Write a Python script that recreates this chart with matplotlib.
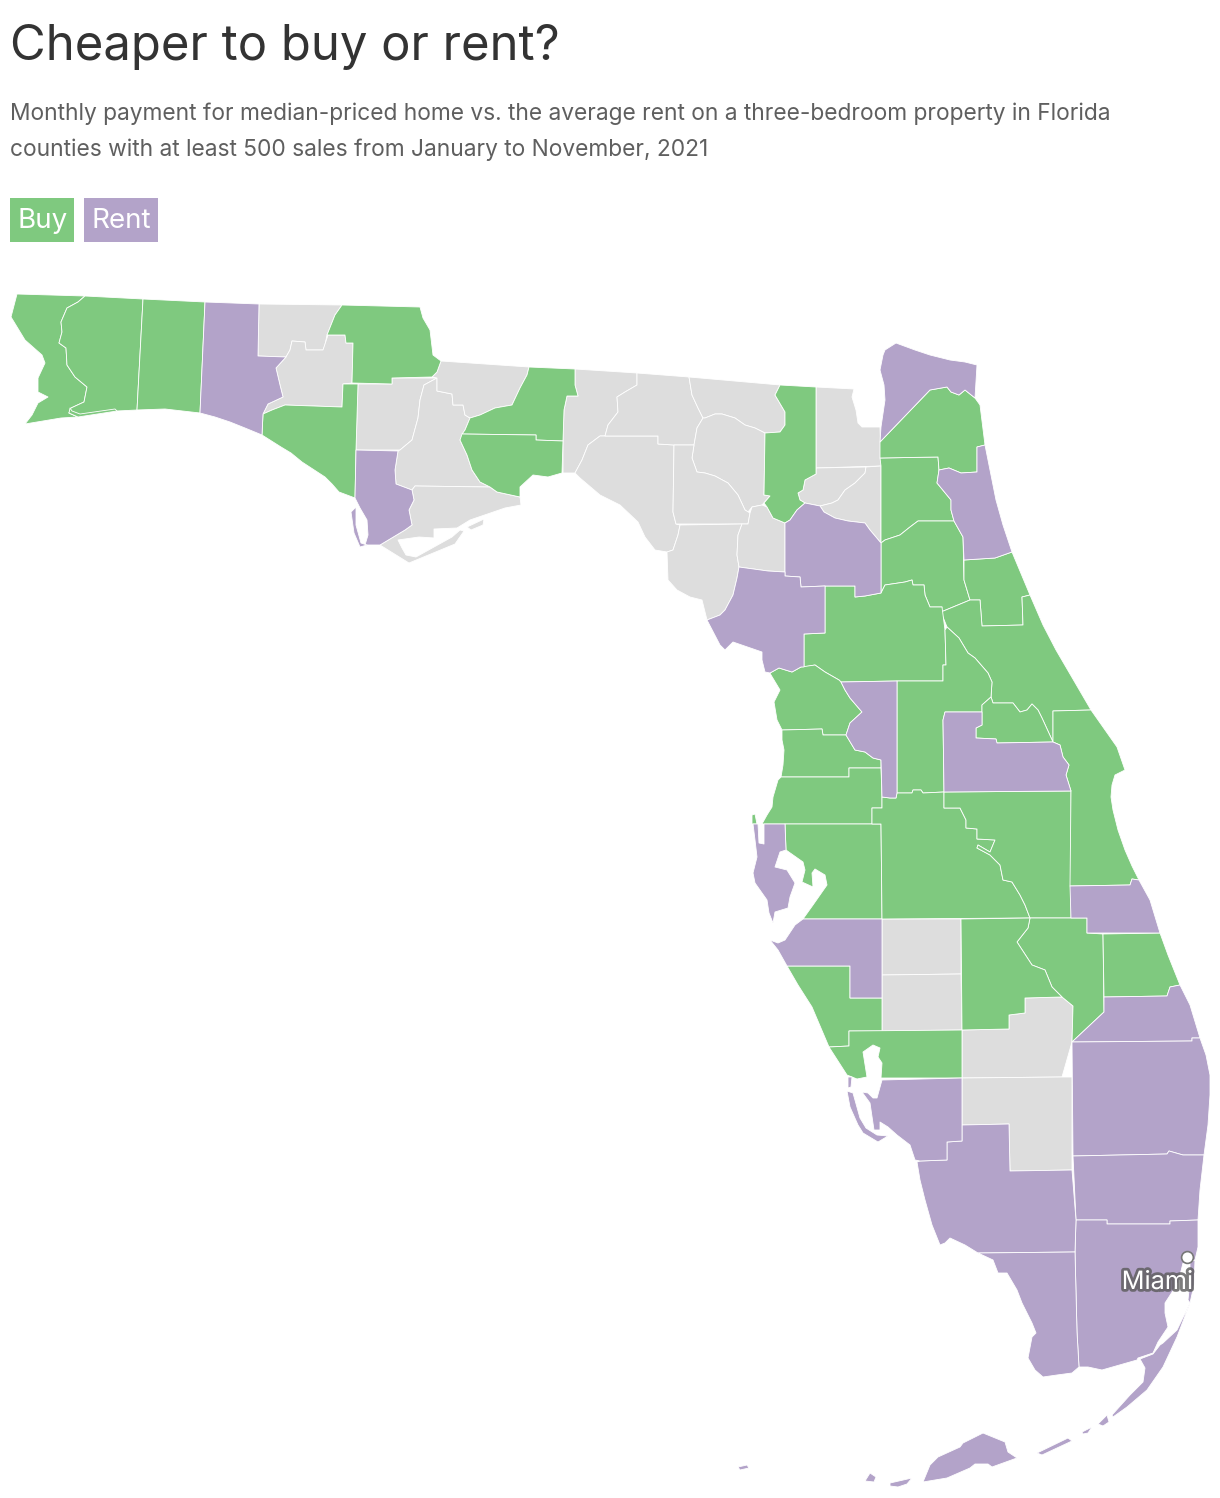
import matplotlib
matplotlib.use('Agg')
import matplotlib.pyplot as plt
import matplotlib.patheffects as pe
from matplotlib.patches import Polygon, Rectangle

GREEN = '#7fc97f'
PURPLE = '#b3a3c9'
GRAY = '#dddddd'

title = 'Cheaper to buy or rent?'
subtitle_1 = 'Monthly payment for median-priced home vs. the average rent on a three-bedroom property in Florida'
subtitle_2 = 'counties with at least 500 sales from January to November, 2021'
legend_labels = ['Buy', 'Rent']

# county outlines in pixels (x, y)
escambia = [(17,294),(85,296),(78,302),(67,308),(61,322),(62,332),(59,343),(66,348),(67,365),(75,377),(87,387),(84,402),(71,408),(69,413),(78,417),(61,418),(25,424),(32,415),(38,403),(48,397),(38,392),(38,378),(45,363),(42,355),(25,340),(11,317)]
santa_rosa = [(85,296),(143,299),(137,410),(117,411),(78,417),(69,413),(71,408),(84,402),(87,387),(75,377),(67,365),(66,348),(59,343),(62,332),(61,322),(67,308),(78,302)]
santa_rosa_isle = [(70,408),(69,413),(78,417),(117,411),(115,409),(80,414),(72,411)]
okaloosa = [(143,299),(205,302),(200,413),(165,409),(137,410)]
walton = [(205,302),(259,304),(258,356),(286,357),(276,368),(280,385),(283,397),(268,404),(263,414),(262,435),(245,428),(230,422),(215,417),(200,413)]
holmes = [(259,304),(342,305),(335,315),(327,335),(325,345),(323,350),(306,350),(305,342),(292,341),(290,350),(286,357),(258,356)]
washington = [(292,341),(305,342),(306,350),(323,350),(328,335),(345,335),(346,343),(353,343),(352,383),(343,384),(342,407),(285,405),(272,410),(263,414),(268,404),(283,397),(280,385),(276,368),(286,357),(290,350)]
bay = [(263,414),(272,410),(285,405),(342,407),(343,384),(358,384),(356,450),(355,498),(347,495),(339,492),(332,484),(325,477),(302,462),(291,453),(281,447),(262,435)]
jackson = [(327,335),(335,315),(342,305),(420,307),(423,318),(430,330),(433,355),(441,361),(437,372),(432,377),(392,378),(392,384),(352,383),(353,343),(346,343),(345,335)]
calhoun = [(358,384),(392,384),(392,378),(437,378),(424,385),(420,400),(418,418),(412,440),(400,450),(356,450)]
gulf = [(356,450),(398,451),(395,470),(396,484),(412,490),(414,500),(409,510),(412,525),(405,530),(380,545),(365,545),(368,535),(367,520),(360,508),(355,498)]
gulf_spit = [(351,512),(356,507),(356,525),(361,543),(367,545),(360,547),(354,533)]
liberty = [(437,378),(437,391),(452,394),(453,405),(463,405),(465,415),(470,418),(465,430),(460,440),(467,455),(472,470),(480,482),(490,487),(415,486),(412,490),(396,484),(395,470),(398,451),(400,450),(412,440),(418,418),(420,400),(424,385)]
franklin = [(415,486),(490,487),(497,492),(520,497),(521,505),(505,508),(470,520),(457,528),(434,529),(434,538),(419,537),(398,540),(402,548),(406,555),(416,557),(452,537),(460,530),(464,531),(455,544),(409,563),(380,545),(405,530),(412,525),(409,510),(414,500),(412,490)]
franklin_isle = [(467,527),(484,519),(483,525),(471,530)]
gadsden = [(441,361),(529,367),(527,375),(520,388),(512,405),(495,408),(480,415),(470,418),(465,415),(463,405),(453,405),(452,394),(437,391),(437,378),(432,377),(437,372)]
leon = [(529,367),(575,369),(575,385),(578,396),(567,396),(564,410),(563,441),(536,440),(536,435),(462,434),(465,430),(470,418),(480,415),(495,408),(512,405),(520,388),(527,375)]
wakulla = [(462,434),(536,435),(536,440),(563,441),(562,473),(548,477),(533,475),(520,487),(520,497),(497,492),(490,487),(480,482),(472,470),(467,455),(460,440)]
jefferson = [(575,369),(637,373),(637,385),(625,392),(617,397),(618,412),(608,425),(605,436),(600,436),(588,445),(582,460),(575,473),(563,473),(563,441),(564,410),(567,396),(578,396),(575,385)]
taylor = [(605,436),(658,436),(658,444),(674,445),(673,512),(676,524),(680,525),(678,535),(673,550),(667,552),(655,550),(645,537),(638,522),(620,505),(600,495),(580,478),(575,473),(582,460),(588,445),(600,436)]
madison = [(637,373),(689,377),(692,395),(698,408),(703,418),(697,428),(694,445),(674,445),(658,444),(658,436),(605,436),(608,425),(618,412),(617,397),(625,392),(637,385)]
hamilton = [(689,377),(780,385),(775,395),(785,412),(785,425),(780,432),(765,433),(755,428),(745,425),(735,418),(722,414),(715,414),(705,418),(703,418),(698,408),(692,395)]
suwannee = [(705,418),(715,414),(722,414),(735,418),(745,425),(755,428),(765,433),(764,495),(770,496),(762,505),(752,507),(748,512),(745,510),(738,495),(728,483),(715,476),(705,473),(697,472),(692,458),(694,445),(697,428),(703,418)]
lafayette = [(674,445),(694,445),(692,458),(697,472),(705,473),(715,476),(728,483),(738,495),(745,510),(750,513),(748,524),(676,524),(673,512)]
dixie = [(680,525),(742,524),(738,535),(737,555),(739,567),(737,578),(733,595),(725,610),(720,615),(707,620),(702,600),(690,597),(677,590),(668,580),(667,552),(673,550),(678,535)]
gilchrist = [(752,507),(762,505),(767,507),(773,518),(785,523),(785,572),(768,571),(739,567),(737,555),(738,535),(742,524),(748,524),(750,513)]
columbia = [(780,385),(816,387),(816,474),(805,480),(803,490),(798,493),(800,500),(805,503),(797,510),(790,520),(785,523),(773,518),(767,507),(764,503),(770,496),(764,495),(765,433),(780,432),(785,425),(785,412),(775,395)]
baker = [(816,387),(854,389),(852,397),(856,410),(858,423),(862,427),(880,427),(881,466),(816,468)]
union = [(816,468),(866,467),(865,473),(855,483),(845,490),(838,500),(832,503),(820,506),(805,503),(800,500),(798,493),(803,490),(805,480),(816,474)]
bradford = [(866,467),(881,466),(881,543),(870,530),(865,523),(848,521),(835,518),(824,512),(820,506),(832,503),(838,500),(845,490),(855,483),(865,473)]
alachua = [(785,523),(790,520),(797,510),(805,503),(820,506),(824,512),(835,518),(848,521),(865,523),(870,530),(881,543),(881,593),(865,596),(855,597),(855,586),(825,586),(801,587),(800,577),(785,576)]
levy = [(707,620),(720,615),(725,610),(733,595),(737,578),(739,567),(768,571),(785,572),(785,576),(800,577),(801,587),(825,586),(825,633),(804,634),(804,667),(801,667),(792,672),(779,668),(770,673),(765,672),(762,660),(762,652),(733,642),(725,650),(720,645)]
marion = [(825,586),(855,586),(855,597),(865,596),(881,593),(885,585),(905,582),(912,580),(913,585),(924,585),(925,595),(930,607),(942,607),(945,630),(946,665),(943,665),(943,681),(897,681),(841,682),(839,680),(825,672),(815,665),(804,667),(804,634),(825,633)]
putnam = [(881,543),(885,540),(900,535),(910,527),(918,521),(954,521),(963,537),(964,580),(970,600),(941,612),(942,607),(930,607),(925,595),(924,585),(913,585),(912,580),(905,582),(885,585),(881,593)]
clay = [(880,458),(938,457),(939,470),(937,483),(951,500),(951,510),(954,521),(918,521),(910,527),(900,535),(885,540),(881,543),(881,466)]
duval = [(880,442),(930,390),(947,387),(951,392),(959,395),(965,390),(975,398),(980,405),(985,445),(977,447),(977,472),(961,473),(949,468),(939,470),(938,457),(880,458)]
nassau = [(880,442),(881,427),(885,400),(884,385),(880,370),(883,355),(885,350),(896,343),(915,350),(930,355),(950,360),(965,362),(977,365),(975,398),(965,390),(959,395),(951,392),(947,387),(930,390)]
st_johns = [(977,447),(985,445),(990,470),(996,500),(1003,525),(1012,552),(995,558),(964,560),(963,537),(954,521),(951,510),(951,500),(937,483),(939,470),(949,468),(961,473),(977,472)]
flagler = [(964,560),(995,558),(1012,552),(1030,595),(1022,597),(1023,625),(982,626),(980,600),(970,600),(964,580)]
volusia = [(941,612),(970,600),(980,600),(982,626),(1023,625),(1022,597),(1030,595),(1043,625),(1056,650),(1091,710),(1053,711),(1053,742),(1042,718),(1038,710),(1032,704),(1027,710),(1020,712),(1013,703),(993,703),(991,697),(992,682),(988,673),(975,658),(968,653),(959,638),(947,627)]
lake = [(897,681),(943,681),(943,665),(946,665),(945,630),(947,627),(959,638),(968,653),(975,658),(988,673),(992,682),(991,697),(982,705),(982,712),(945,712),(943,720),(944,792),(923,793),(921,790),(913,790),(912,793),(897,793)]
sumter = [(841,682),(897,681),(897,793),(896,798),(890,798),(882,797),(881,760),(873,758),(865,752),(855,750),(846,735),(850,723),(862,712),(850,698),(845,690)]
citrus = [(770,673),(779,668),(792,672),(801,667),(815,665),(825,672),(839,680),(841,682),(845,690),(850,698),(862,712),(850,723),(846,735),(823,735),(822,729),(782,730),(777,720),(774,702),(780,690),(771,675)]
hernando = [(782,730),(822,729),(823,735),(846,735),(855,750),(865,752),(873,758),(881,760),(881,768),(849,768),(849,777),(781,777),(783,765),(784,750),(782,740)]
pasco = [(781,777),(849,777),(849,768),(881,768),(882,797),(882,808),(872,808),(872,824),(762,824),(767,815),(772,807),(773,797),(778,780)]
pinellas = [(753,824),(758,824),(759,843),(764,844),(764,824),(785,824),(786,850),(780,852),(775,867),(787,870),(795,883),(790,897),(788,908),(775,912),(773,923),(769,913),(767,900),(755,883),(753,873),(757,857),(755,840)]
anclote = [(752,815),(755,814),(757,824),(752,824)]
hillsborough = [(785,824),(881,824),(882,919),(803,919),(813,905),(827,885),(825,875),(815,869),(812,873),(813,887),(802,882),(805,870),(803,862),(786,850)]
polk = [(872,808),(882,808),(882,797),(890,798),(896,798),(897,793),(912,793),(913,790),(921,790),(923,793),(944,792),(944,808),(960,808),(966,820),(966,828),(977,829),(977,839),(995,840),(990,852),(978,845),(977,848),(990,855),(1000,865),(1003,880),(1012,882),(1020,895),(1025,905),(1030,918),(882,919),(881,824),(872,824)]
osceola = [(944,792),(1071,791),(1071,918),(1030,918),(1025,905),(1020,895),(1012,882),(1003,880),(1000,865),(990,855),(977,848),(978,845),(990,852),(995,840),(977,839),(977,829),(966,828),(966,820),(960,808),(944,808)]
orange = [(945,712),(982,712),(982,725),(976,728),(976,738),(996,739),(997,743),(1053,742),(1060,745),(1063,757),(1069,765),(1066,775),(1071,791),(944,792),(943,720)]
seminole = [(982,712),(982,705),(991,697),(993,703),(1013,703),(1020,712),(1027,710),(1032,704),(1038,710),(1042,718),(1053,742),(997,743),(996,739),(976,738),(976,728),(982,725)]
brevard = [(1053,711),(1091,710),(1117,747),(1125,770),(1115,775),(1112,785),(1111,797),(1113,810),(1118,830),(1125,850),(1132,866),(1139,880),(1132,879),(1130,885),(1070,886),(1071,791),(1066,775),(1069,765),(1063,757),(1060,745),(1053,742)]
indian_river = [(1070,886),(1130,885),(1132,879),(1139,880),(1150,900),(1160,933),(1087,933),(1087,918),(1071,918)]
okeechobee = [(1030,918),(1087,918),(1087,933),(1103,934),(1104,1012),(1072,1042),(1073,1006),(1062,997),(1052,987),(1045,970),(1032,965),(1017,942),(1028,928)]
highlands = [(961,919),(1030,918),(1028,928),(1017,942),(1032,965),(1045,970),(1052,987),(1062,997),(1025,998),(1025,1013),(1009,1015),(1009,1029),(962,1030)]
glades = [(962,1030),(1009,1029),(1009,1015),(1025,1013),(1025,998),(1062,997),(1073,1006),(1072,1042),(1062,1077),(962,1078)]
hardee = [(882,919),(961,919),(961,974),(882,975)]
desoto = [(882,975),(961,974),(962,1030),(882,1031)]
manatee = [(803,919),(882,919),(882,998),(850,998),(850,966),(787,966),(778,950),(770,940),(778,943),(785,940),(795,925)]
sarasota = [(787,966),(850,966),(850,998),(882,998),(882,1031),(849,1031),(849,1046),(829,1047),(812,1007),(798,985)]
charlotte = [(849,1031),(962,1030),(962,1078),(881,1078),(882,1063),(878,1057),(880,1048),(873,1045),(863,1052),(867,1077),(857,1079),(847,1075),(829,1047),(849,1046)]
lee = [(882,1080),(962,1078),(962,1141),(947,1142),(947,1160),(920,1161),(915,1160),(910,1145),(897,1135),(888,1127),(880,1122),(880,1130),(874,1130),(870,1103),(862,1092),(868,1093),(873,1098),(877,1098)]
lee_north = [(848,1077),(852,1077),(851,1087),(848,1088)]
sanibel = [(847,1091),(853,1093),(860,1118),(866,1128),(877,1135),(888,1136),(878,1142),(863,1133),(858,1125),(850,1107)]
hendry = [(962,1078),(1062,1077),(1072,1077),(1072,1170),(1010,1171),(1009,1124),(962,1125)]
st_lucie = [(1103,934),(1160,933),(1168,955),(1180,985),(1170,987),(1167,996),(1104,997)]
martin = [(1104,997),(1167,996),(1170,987),(1180,985),(1190,1005),(1200,1038),(1192,1038),(1192,1041),(1072,1042),(1104,1012)]
palm_beach = [(1072,1042),(1192,1041),(1192,1038),(1200,1038),(1206,1055),(1210,1075),(1210,1095),(1208,1125),(1204,1155),(1183,1155),(1169,1151),(1167,1154),(1073,1156)]
broward = [(1073,1156),(1167,1154),(1169,1151),(1183,1155),(1204,1155),(1200,1190),(1198,1220),(1170,1221),(1170,1224),(1107,1224),(1107,1220),(1076,1220)]
collier = [(920,1161),(947,1160),(947,1142),(962,1141),(962,1125),(1009,1124),(1010,1171),(1072,1170),(1076,1220),(1075,1252),(978,1253),(965,1245),(950,1238),(945,1243),(940,1245),(932,1225),(925,1200),(920,1180),(917,1162)]
monroe = [(978,1253),(1075,1252),(1077,1332),(1079,1367),(1072,1373),(1057,1375),(1043,1377),(1035,1370),(1028,1358),(1032,1337),(1036,1333),(1032,1323),(1022,1303),(1017,1290),(1007,1273),(998,1273),(993,1260)]
miami_dade = [(1076,1220),(1107,1220),(1107,1224),(1170,1224),(1170,1221),(1198,1220),(1198,1247),(1195,1260),(1190,1262),(1183,1263),(1178,1283),(1165,1303),(1165,1313),(1168,1327),(1158,1342),(1153,1353),(1138,1358),(1137,1360),(1102,1370),(1088,1367),(1079,1367),(1077,1332),(1075,1252)]
miami_beach = [(1190,1262),(1195,1260),(1194,1285),(1190,1303),(1188,1300),(1190,1280)]
key_largo = [(1190,1303),(1177,1337),(1163,1367),(1147,1390),(1127,1407),(1113,1417),(1112,1415),(1130,1395),(1143,1382),(1145,1368),(1140,1359),(1153,1354),(1160,1345),(1163,1343),(1177,1330)]
key_a = [(1098,1424),(1107,1415),(1109,1422),(1103,1426)]
key_b = [(1082,1432),(1092,1427),(1088,1433),(1083,1434)]
key_c = [(1037,1453),(1068,1438),(1072,1441),(1042,1455)]
key_d = [(923,1482),(930,1465),(938,1457),(960,1447),(963,1443),(983,1433),(1005,1442),(1008,1452),(1017,1458),(992,1467),(988,1464),(975,1464),(970,1468),(947,1478)]
key_e = [(890,1483),(912,1478),(907,1484),(898,1487),(890,1486)]
key_f = [(865,1481),(870,1473),(876,1477),(874,1482)]
key_g = [(738,1467),(747,1465),(749,1468),(740,1470)]

buy_counties = [escambia, santa_rosa, santa_rosa_isle, okaloosa, bay, jackson, leon, wakulla, columbia, clay, duval, putnam, flagler, volusia, marion, lake, citrus, hernando, pasco, anclote, hillsborough, polk, osceola, seminole, brevard, okeechobee, highlands, sarasota, charlotte, st_lucie]
rent_counties = [walton, gulf, gulf_spit, nassau, st_johns, alachua, levy, sumter, orange, pinellas, manatee, indian_river, martin, palm_beach, broward, miami_dade, miami_beach, collier, monroe, lee, lee_north, sanibel, key_largo, key_a, key_b, key_c, key_d, key_e, key_f, key_g]
other_counties = [holmes, washington, calhoun, liberty, franklin, franklin_isle, gadsden, jefferson, taylor, madison, hamilton, suwannee, lafayette, dixie, gilchrist, baker, union, bradford, hardee, desoto, glades, hendry]

fig = plt.figure(figsize=(12.2, 14.98), dpi=100)
ax = fig.add_axes([0, 0, 1, 1])
ax.set_xlim(0, 1220)
ax.set_ylim(1498, 0)
ax.axis('off')

for counties, color in [(other_counties, GRAY), (buy_counties, GREEN), (rent_counties, PURPLE)]:
    for shape in counties:
        ax.add_patch(Polygon(shape, closed=True, facecolor=color, edgecolor='white', linewidth=0.6, joinstyle='round'))

# city marker
ax.plot([1187], [1257], 'o', markersize=8.5, markerfacecolor='white', markeredgecolor='#777777', markeredgewidth=1.2)
ax.text(1157.5, 1289, 'Miami', family='Inter', fontsize=18.2, color='white', ha='center', va='baseline',
        path_effects=[pe.withStroke(linewidth=4, foreground='#5a5a5a', alpha=0.8)])

ax.text(10, 60, title, family='Inter', fontsize=35.3, color='#333333', va='baseline')
ax.text(10, 120, subtitle_1, family='Inter', fontsize=16.4, color='#5f5f5f', va='baseline')
ax.text(10, 156, subtitle_2, family='Inter', fontsize=16.4, color='#5f5f5f', va='baseline')

ax.add_patch(Rectangle((10, 198), 64, 44, facecolor=GREEN, edgecolor='none'))
ax.add_patch(Rectangle((84, 198), 74, 44, facecolor=PURPLE, edgecolor='none'))
ax.text(18, 228, legend_labels[0], family='Inter', fontsize=20, color='white', va='baseline')
ax.text(92, 228, legend_labels[1], family='Inter', fontsize=20, color='white', va='baseline')

fig.savefig('out.png', dpi=100)
